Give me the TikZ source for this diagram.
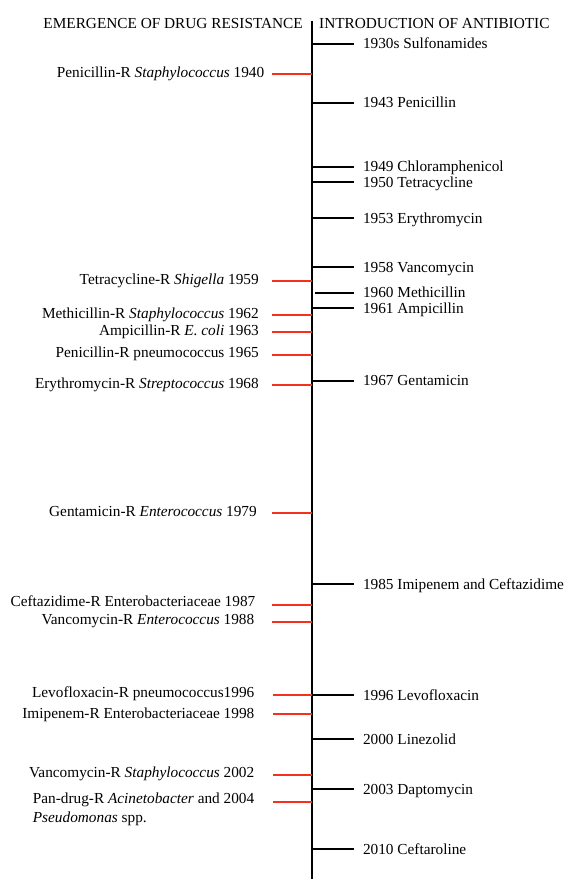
\documentclass[tikz,border=0pt]{standalone}
\usepackage{fontspec}
\setmainfont{Liberation Serif}
\definecolor{resred}{RGB}{245,48,28}
\tikzset{
  axisline/.style={color=black, line width=2.3},
  introtick/.style={color=black, line width=2},
  restick/.style={color=resred, line width=2},
  tltext/.style={inner sep=0pt, font=\fontsize{15.3}{19.5}\selectfont},
  introlabel/.style={tltext, anchor=base west, outer xsep=9pt},
  reslabel/.style={tltext, anchor=base east},
}

\begin{document}
\begin{tikzpicture}[x=1pt,y=1pt,yscale=-1,xscale=1]
\useasboundingbox (0,0) rectangle (565,879);

%Straight Lines: time axis
\coordinate (axtop) at (312.3,20.5);
\coordinate (axbot) at (312.3,879);
\draw [axisline] (axtop) -- (axbot);

%Text Node: headings
\node [tltext, anchor=base east] (reshead) at (303,28.5) {EMERGENCE OF DRUG RESISTANCE};
\node [tltext, anchor=base west] (introhead) at (319,28.5) {INTRODUCTION OF ANTIBIOTIC};

%Introduction of antibiotic (right side)
\coordinate (ax1930) at (312.3,43.5);
\node [introlabel] (in1930) at (354,48.5) {1930s Sulfonamides};
\draw [introtick] (ax1930) -- (in1930.west |- ax1930);

\coordinate (ax1943) at (312.3,102.5);
\node [introlabel] (in1943) at (354,107.5) {1943 Penicillin};
\draw [introtick] (ax1943) -- (in1943.west |- ax1943);

\coordinate (ax1949) at (312.3,166.5);
\node [introlabel] (in1949) at (354,171.5) {1949 Chloramphenicol};
\draw [introtick] (ax1949) -- (in1949.west |- ax1949);

\coordinate (ax1950) at (312.3,182);
\node [introlabel] (in1950) at (354,187) {1950 Tetracycline};
\draw [introtick] (ax1950) -- (in1950.west |- ax1950);

\coordinate (ax1953) at (312.3,218.3);
\node [introlabel] (in1953) at (354,223.3) {1953 Erythromycin};
\draw [introtick] (ax1953) -- (in1953.west |- ax1953);

\coordinate (ax1958) at (312.3,267.3);
\node [introlabel] (in1958) at (354,272.3) {1958 Vancomycin};
\draw [introtick] (ax1958) -- (in1958.west |- ax1958);

\coordinate (ax1960) at (315,292.7);
\node [introlabel] (in1960) at (354,297.7) {1960 Methicillin};
\draw [introtick] (ax1960) -- (in1960.west |- ax1960);

\coordinate (ax1961) at (312.3,308.3);
\node [introlabel] (in1961) at (354,313.3) {1961 Ampicillin};
\draw [introtick] (ax1961) -- (in1961.west |- ax1961);

\coordinate (ax1967) at (312.3,380.7);
\node [introlabel] (in1967) at (354,385.7) {1967 Gentamicin};
\draw [introtick] (ax1967) -- (in1967.west |- ax1967);

\coordinate (ax1985) at (312.3,584);
\node [introlabel] (in1985) at (354,589) {1985 Imipenem and Ceftazidime};
\draw [introtick] (ax1985) -- (in1985.west |- ax1985);

\coordinate (ax1996) at (312.3,695);
\node [introlabel] (in1996) at (354,700) {1996 Levofloxacin};
\draw [introtick] (ax1996) -- (in1996.west |- ax1996);

\coordinate (ax2000) at (312.3,739.3);
\node [introlabel] (in2000) at (354,744.3) {2000 Linezolid};
\draw [introtick] (ax2000) -- (in2000.west |- ax2000);

\coordinate (ax2003) at (312.3,789);
\node [introlabel] (in2003) at (354,794) {2003 Daptomycin};
\draw [introtick] (ax2003) -- (in2003.west |- ax2003);

\coordinate (ax2010) at (312.3,849);
\node [introlabel] (in2010) at (354,854) {2010 Ceftaroline};
\draw [introtick] (ax2010) -- (in2010.west |- ax2010);

%Emergence of drug resistance (left side)
\coordinate (rs1940) at (271.5,74);
\coordinate (rx1940) at (312.3,74);
\node [reslabel] (re1940) at (264.5,77.5) {Penicillin-R \textit{Staphylococcus} 1940};
\draw [restick] (rs1940) -- (rx1940);

\coordinate (rs1959) at (271.5,280.7);
\coordinate (rx1959) at (312.3,280.7);
\node [reslabel] (re1959) at (259,284.2) {Tetracycline-R \textit{Shigella} 1959};
\draw [restick] (rs1959) -- (rx1959);

\coordinate (rs1962) at (271.5,315);
\coordinate (rx1962) at (312.3,315);
\node [reslabel] (re1962) at (259,318) {Methicillin-R \textit{Staphylococcus} 1962};
\draw [restick] (rs1962) -- (rx1962);

\coordinate (rs1963) at (271.5,332);
\coordinate (rx1963) at (312.3,332);
\node [reslabel] (re1963) at (259,335) {Ampicillin-R \textit{E. coli} 1963};
\draw [restick] (rs1963) -- (rx1963);

\coordinate (rs1965) at (271.5,354.7);
\coordinate (rx1965) at (312.3,354.7);
\node [reslabel] (re1965) at (259,357.7) {Penicillin-R pneumococcus 1965};
\draw [restick] (rs1965) -- (rx1965);

\coordinate (rs1968) at (271.5,385.3);
\coordinate (rx1968) at (312.3,385.3);
\node [reslabel] (re1968) at (259,388.3) {Erythromycin-R \textit{Streptococcus} 1968};
\draw [restick] (rs1968) -- (rx1968);

\coordinate (rs1979) at (271.5,513);
\coordinate (rx1979) at (312.3,513);
\node [reslabel] (re1979) at (257,516) {Gentamicin-R \textit{Enterococcus} 1979};
\draw [restick] (rs1979) -- (rx1979);

\coordinate (rs1987) at (272,605);
\coordinate (rx1987) at (312.3,605);
\node [reslabel] (re1987) at (255.5,606.5) {Ceftazidime-R Enterobacteriaceae 1987};
\draw [restick] (rs1987) -- (rx1987);

\coordinate (rs1988) at (272,622.3);
\coordinate (rx1988) at (312.3,622.3);
\node [reslabel] (re1988) at (254.5,624.8) {Vancomycin-R \textit{Enterococcus} 1988};
\draw [restick] (rs1988) -- (rx1988);

\coordinate (rs1996) at (272.5,695);
\coordinate (rx1996) at (312.3,695);
\node [reslabel] (re1996) at (254.5,697.5) {Levofloxacin-R pneumococcus1996};
\draw [restick] (rs1996) -- (rx1996);

\coordinate (rs1998) at (273,714);
\coordinate (rx1998) at (312.3,714);
\node [reslabel] (re1998) at (254.5,718.5) {Imipenem-R Enterobacteriaceae 1998};
\draw [restick] (rs1998) -- (rx1998);

\coordinate (rs2002) at (273,775.3);
\coordinate (rx2002) at (312.3,775.3);
\node [reslabel] (re2002) at (254.5,777.8) {Vancomycin-R \textit{Staphylococcus} 2002};
\draw [restick] (rs2002) -- (rx2002);

\coordinate (rs2004) at (273,801.7);
\coordinate (rx2004) at (312.3,801.7);
\node [tltext, anchor=north east, align=left] (re2004) at (254.5,792.5) {Pan-drug-R \textit{Acinetobacter} and 2004\\\textit{Pseudomonas} spp.};
\draw [restick] (rs2004) -- (rx2004);

\end{tikzpicture}
\end{document}
